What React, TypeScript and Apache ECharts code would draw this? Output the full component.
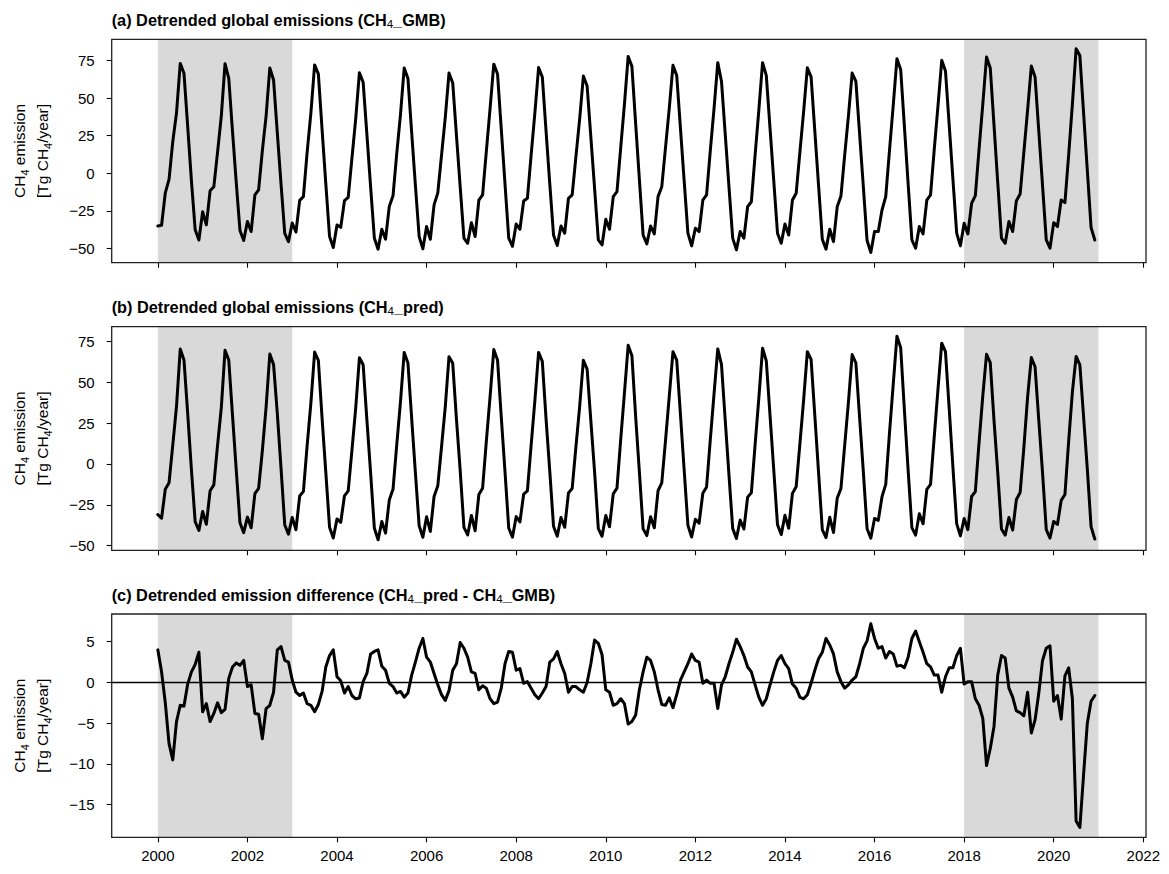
import React, { useEffect, useRef } from "react";
import * as echarts from "echarts";

// ---------------- DATA (monthly, Jan 2000 - Dec 2020) ----------------
const startYear = 2000;

// (a) Detrended global emissions, CH4_GMB  [Tg CH4/year]
const ch4GMB = [
  -35, -34.5, -13, -4, 21, 40, 73, 66.5, 31, -5, -37.5, -44.3, // 2000
  -25.5, -34.3, -11.6, -9, 14, 38, 72.8, 63, 28, -6, -38, -44.7, // 2001
  -32, -38.7, -14.4, -11, 15, 38, 70, 62, 27, -7, -40, -45.4, // 2002
  -33, -39, -18, -15.5, 14, 40, 72, 66, 29, -7, -42, -49.3, // 2003
  -34.3, -35.9, -18.2, -16, 10, 36, 66.8, 60.5, 26, -9, -43, -50.4, // 2004
  -37.2, -43.8, -22, -15, 13, 39, 70, 63, 27, -8, -42, -50.2, // 2005
  -35.4, -43.8, -21, -13, 12, 37, 66.6, 60, 25, -9, -43, -46.5, // 2006
  -32.8, -42, -17.8, -14.4, 14.5, 43, 72.5, 66, 29.5, -7, -43, -48.5, // 2007
  -33.7, -37.2, -18.4, -16.6, 12, 40, 70.2, 64, 28, -7, -41, -48, // 2008
  -35, -39.8, -16.6, -14.4, 11, 36, 64.6, 58, 24, -10, -44.3, -47.6, // 2009
  -30.6, -37.2, -15.5, -12.2, 17, 46, 77.6, 71, 33, -4, -41, -46.9, // 2010
  -35, -40.3, -15.5, -8.9, 17, 43, 71.7, 65, 30, -5, -39.8, -48.2, // 2011
  -36.5, -38.7, -17.8, -14.4, 15, 43, 73.5, 61, 26, -9, -43.1, -50.9, // 2012
  -38.7, -43.1, -22.2, -18.9, 12, 42, 73.5, 65, 30, -5, -39.8, -46.5, // 2013
  -33.7, -41, -17.8, -13.3, 14, 41, 70.1, 64, 28, -8, -43.8, -50.4, // 2014
  -37.2, -45.4, -22.2, -15.1, 12, 38, 66.6, 61, 26, -9, -44.7, -52.6, // 2015
  -38.7, -38.7, -24.4, -15.5, 15, 45, 76.1, 69, 31, -7, -44.3, -49.8, // 2016
  -35.4, -40.3, -17.8, -14.4, 16, 45, 75, 68, 32, -4, -39.8, -48.2, // 2017
  -33.2, -40.3, -20, -14.9, 16, 46, 77.2, 70, 32, -6, -43.1, -46.5, // 2018
  -32.1, -38.7, -18.2, -13.8, 14, 42, 71.2, 64, 28, -8, -44.3, -49.8, // 2019
  -32.8, -35.4, -17.8, -19.5, 12, 46, 82.7, 78.3, 40, 2, -36, -44.3, // 2020
];

// (b) Detrended global emissions, CH4_pred
const ch4Pred = [
  -31.0, -33.2, -15.5, -11.5, 11.5, 35.2, 70.2, 63.6, 30.8, -3.7, -35.3, -40.6, // 2000
  -29.1, -36.9, -16.4, -12.8, 11.5, 34.3, 69.5, 63.5, 29.9, -3.6, -35.9, -42.0, // 2001
  -32.5, -39.0, -18.2, -14.9, 8.1, 34.8, 67.2, 60.8, 31.0, -2.6, -37.3, -42.9, // 2002
  -32.7, -40.2, -19.6, -16.8, 11.4, 37.2, 68.4, 63.3, 27.9, -5.1, -38.7, -45.3, // 2003
  -33.6, -35.7, -19.5, -16.5, 8.4, 34.0, 64.9, 60.6, 27.1, -5.5, -39.2, -46.4, // 2004
  -35.2, -42.3, -22.1, -15.5, 11.7, 37.9, 68.2, 61.7, 27.9, -5.5, -37.8, -44.8, // 2005
  -32.3, -41.3, -19.9, -13.3, 10.5, 34.8, 65.6, 61.5, 27.3, -4.1, -38.8, -43.4, // 2006
  -31.5, -40.9, -18.7, -14.8, 13.8, 41.0, 69.9, 63.6, 28.8, -4.7, -39.2, -44.8, // 2007
  -32.2, -35.5, -18.5, -16.5, 11.3, 38.5, 68.2, 62.7, 27.5, -4.5, -38.1, -44.2, // 2008
  -32.7, -38.7, -17.8, -14.9, 10.5, 35.1, 63.4, 58.0, 26.3, -4.8, -39.5, -44.2, // 2009
  -31.5, -38.4, -18.3, -14.8, 15.0, 43.4, 72.5, 66.2, 29.0, -4.9, -39.7, -43.8, // 2010
  -32.3, -39.0, -16.4, -11.6, 14.2, 41.1, 68.6, 63.5, 30.3, -3.7, -37.5, -44.7, // 2011
  -33.8, -36.2, -17.9, -14.1, 14.9, 42.9, 70.3, 60.7, 26.7, -6.7, -39.4, -45.6, // 2012
  -34.3, -39.8, -20.3, -17.6, 11.7, 40.2, 70.7, 63.0, 29.7, -3.7, -37.1, -43.2, // 2013
  -31.4, -39.3, -18.0, -14.0, 12.2, 39.0, 68.6, 63.9, 29.5, -5.1, -40.1, -45.0, // 2014
  -32.6, -41.9, -20.9, -15.0, 11.3, 37.7, 66.9, 61.7, 28.3, -4.8, -39.6, -45.4, // 2015
  -33.3, -34.5, -20.0, -12.5, 18.8, 48.5, 78.1, 71.1, 32.8, -3.9, -38.9, -43.5, // 2016
  -30.4, -36.6, -15.5, -12.5, 16.9, 45.9, 73.8, 68.7, 33.8, -2.2, -36.5, -44.0, // 2017
  -33.4, -40.2, -19.9, -16.9, 13.2, 41.6, 67.0, 61.9, 26.6, -5.1, -39.8, -43.5, // 2018
  -32.8, -40.5, -21.7, -17.5, 9.9, 40.8, 65.0, 59.4, 26.7, -5.3, -40.1, -45.3, // 2019
  -35.1, -37.0, -22.3, -18.7, 13.8, 44.0, 65.7, 60.5, 28.7, -3.0, -38.3, -45.9, // 2020
];

// (c) Detrended emission difference, CH4_pred - CH4_GMB
const diffPredGMB = [
  4.0, 1.3, -2.5, -7.5, -9.5, -4.8, -2.8, -2.9, -0.2, 1.3, 2.2, 3.7, // 2000
  -3.6, -2.6, -4.8, -3.8, -2.5, -3.7, -3.3, 0.5, 1.9, 2.4, 2.1, 2.7, // 2001
  -0.5, -0.3, -3.8, -3.9, -6.9, -3.2, -2.8, -1.2, 4.0, 4.4, 2.7, 2.5, // 2002
  0.3, -1.2, -1.6, -1.3, -2.6, -2.8, -3.6, -2.7, -1.1, 1.9, 3.3, 4.0, // 2003
  0.7, 0.2, -1.3, -0.5, -1.6, -2.0, -1.9, 0.1, 1.1, 3.5, 3.8, 4.0, // 2004
  2.0, 1.5, -0.1, -0.5, -1.3, -1.1, -1.8, -1.3, 0.9, 2.5, 4.2, 5.4, // 2005
  3.1, 2.5, 1.1, -0.3, -1.5, -2.2, -1.0, 1.5, 2.3, 4.9, 4.2, 3.1, // 2006
  1.3, 1.1, -0.9, -0.4, -0.7, -2.0, -2.6, -2.4, -0.7, 2.3, 3.8, 3.7, // 2007
  1.5, 1.7, -0.1, 0.1, -0.7, -1.5, -2.0, -1.3, -0.5, 2.5, 2.9, 3.8, // 2008
  2.3, 1.1, -1.2, -0.5, -0.5, -0.9, -1.2, 0.0, 2.3, 5.2, 4.8, 3.4, // 2009
  -0.9, -1.2, -2.8, -2.6, -2.0, -2.6, -5.1, -4.8, -4.0, -0.9, 1.3, 3.1, // 2010
  2.7, 1.3, -0.9, -2.7, -2.8, -1.9, -3.1, -1.5, 0.3, 1.3, 2.3, 3.5, // 2011
  2.7, 2.5, -0.1, 0.3, -0.1, -0.1, -3.2, -0.3, 0.7, 2.3, 3.7, 5.3, // 2012
  4.4, 3.3, 1.9, 1.3, -0.3, -1.8, -2.8, -2.0, -0.3, 1.3, 2.7, 3.3, // 2013
  2.3, 1.7, -0.2, -0.7, -1.8, -2.0, -1.5, -0.1, 1.5, 2.9, 3.7, 5.4, // 2014
  4.6, 3.5, 1.3, 0.1, -0.7, -0.3, 0.3, 0.7, 2.3, 4.2, 5.1, 7.2, // 2015
  5.4, 4.2, 4.4, 3.0, 3.8, 3.5, 2.0, 2.1, 1.8, 3.1, 5.4, 6.3, // 2016
  5.0, 3.7, 2.3, 1.9, 0.9, 0.9, -1.2, 0.7, 1.8, 1.8, 3.3, 4.2, // 2017
  -0.2, 0.1, 0.1, -2.0, -2.8, -4.4, -10.2, -8.1, -5.4, 0.9, 3.3, 3.0, // 2018
  -0.7, -1.8, -3.5, -3.7, -4.1, -1.2, -6.2, -4.6, -1.3, 2.7, 4.2, 4.5, // 2019
  -2.3, -1.6, -4.5, 0.8, 1.8, -2.0, -17.0, -17.8, -11.3, -5.0, -2.3, -1.6, // 2020
];

const xTicks = [2000, 2002, 2004, 2006, 2008, 2010, 2012, 2014, 2016, 2018, 2020, 2022];
const yTicksEmission = [-50, -25, 0, 25, 50, 75];
const yTicksDiff = [-15, -10, -5, 0, 5];
const shadedPeriods = [
  [2000, 2003],
  [2018, 2021],
];

const panelTitles = [
  ["(a) Detrended global emissions (CH", "4", "_GMB)"],
  ["(b) Detrended global emissions (CH", "4", "_pred)"],
  ["(c) Detrended emission difference (CH", "4", "_pred - CH", "4", "_GMB)"],
];

// ---------------- LAYOUT / STYLE ----------------
const FONT = "'Liberation Sans', Arial, Helvetica, sans-serif";
const plotLeft = 111.7;
const plotWidth = 1034.3;
const panels = [
  { top: 39.3, height: 223.4, min: -59.4, max: 89.0, ticks: yTicksEmission, data: ch4GMB },
  { top: 326.7, height: 223.6, min: -52.8, max: 83.9, ticks: yTicksEmission, data: ch4Pred },
  { top: 614, height: 223.3, min: -19.0, max: 8.4, ticks: yTicksDiff, data: diffPredGMB },
];

const fmtMinus = (v: number) => (v < 0 ? "\u2212" + Math.abs(v) : String(v));

function buildOption() {
  const grid: any[] = [];
  const xAxis: any[] = [];
  const yAxis: any[] = [];
  const series: any[] = [];
  const graphic: any[] = [];

  panels.forEach((p, k) => {
    grid.push({
      left: plotLeft,
      top: p.top,
      width: plotWidth,
      height: p.height,
      containLabel: false,
      outerBoundsMode: "none",
      show: false,
    });
    xAxis.push({
      type: "value",
      gridIndex: k,
      position: "bottom",
      min: 1998.97,
      max: 2022.06,
      axisLine: { show: false, onZero: false },
      splitLine: { show: false },
      axisTick: {
        show: true,
        length: 5,
        lineStyle: { color: "#000", width: 1.1 },
        customValues: xTicks,
      },
      axisLabel: {
        show: k === 2,
        customValues: xTicks,
        margin: 11,
        fontSize: 15,
        color: "#000",
        fontFamily: FONT,
        formatter: (v: number) => String(v),
      },
    });
    yAxis.push({
      type: "value",
      gridIndex: k,
      position: "left",
      min: p.min,
      max: p.max,
      axisLine: { show: false, onZero: false },
      splitLine: { show: false },
      axisTick: {
        show: true,
        length: 5,
        lineStyle: { color: "#000", width: 1.1 },
        customValues: p.ticks,
      },
      axisLabel: {
        show: true,
        customValues: p.ticks,
        margin: 17,
        fontSize: 15,
        color: "#000",
        fontFamily: FONT,
        formatter: fmtMinus,
      },
    });
    // shading (and zero line for panel c)
    series.push({
      type: "line",
      xAxisIndex: k,
      yAxisIndex: k,
      data: [],
      z: 1,
      silent: true,
      markArea: {
        silent: true,
        itemStyle: { color: "#d9d9d9", opacity: 1 },
        data: shadedPeriods.map(([s, e]) => [{ xAxis: s }, { xAxis: e }]),
      },
      markLine:
        k === 2
          ? {
              silent: true,
              symbol: ["none", "none"],
              label: { show: false },
              lineStyle: { color: "#000", width: 1.3, type: "solid" },
              data: [{ yAxis: 0 }],
            }
          : undefined,
    });
    series.push({
      type: "line",
      xAxisIndex: k,
      yAxisIndex: k,
      z: 5,
      showSymbol: false,
      symbol: "none",
      silent: true,
      lineStyle: { color: "#000", width: 3, join: "round", cap: "round" },
      data: p.data.map((v, i) => [startYear + i / 12, v]),
    });

    // frame
    graphic.push({
      type: "rect",
      z: 100,
      silent: true,
      shape: { x: plotLeft, y: p.top, width: plotWidth, height: p.height },
      style: { fill: "none", stroke: "#222", lineWidth: 1.3 },
    });

    // panel title
    const parts = panelTitles[k];
    const text = parts.map((t, j) => (j % 2 === 1 ? `{s|${t}}` : `{b|${t}}`)).join("");
    graphic.push({
      type: "text",
      z: 100,
      silent: true,
      x: plotLeft,
      y: p.top - 19.5,
      style: {
        text,
        align: "left",
        verticalAlign: "middle",
        rich: {
          b: { fontSize: 16.3, fontWeight: "bold", fontFamily: FONT, fill: "#000", lineHeight: 20 },
          s: {
            fontSize: 11.5,
            fontWeight: "normal",
            fontFamily: FONT,
            fill: "#000",
            lineHeight: 13,
            verticalAlign: "bottom",
          },
        },
      },
    });

    // y-axis label
    graphic.push({
      type: "text",
      z: 100,
      silent: true,
      x: 30.5,
      y: p.top + p.height / 2,
      rotation: Math.PI / 2,
      style: {
        text: "{a|CH}{s|4}{a| emission}\n{a|[Tg CH}{s|4}{a|/year]}",
        align: "center",
        verticalAlign: "middle",
        rich: {
          a: { fontSize: 15.5, fontFamily: FONT, fill: "#000", lineHeight: 23 },
          s: { fontSize: 11, fontFamily: FONT, fill: "#000", lineHeight: 14, verticalAlign: "bottom" },
        },
      },
    });
  });

  return {
    animation: false,
    backgroundColor: "#ffffff",
    textStyle: { fontFamily: FONT },
    grid,
    xAxis,
    yAxis,
    series,
    graphic,
  };
}

export default function App() {
  const ref = useRef<HTMLDivElement>(null);
  useEffect(() => {
    if (!ref.current) return;
    const chart = echarts.init(ref.current, null, { renderer: "svg" });
    chart.setOption(buildOption() as any);
    return () => chart.dispose();
  }, []);
  return (
    <div
      ref={ref}
      style={{ position: "absolute", left: 0, top: 0, width: 1169, height: 874, background: "#fff" }}
    />
  );
}
